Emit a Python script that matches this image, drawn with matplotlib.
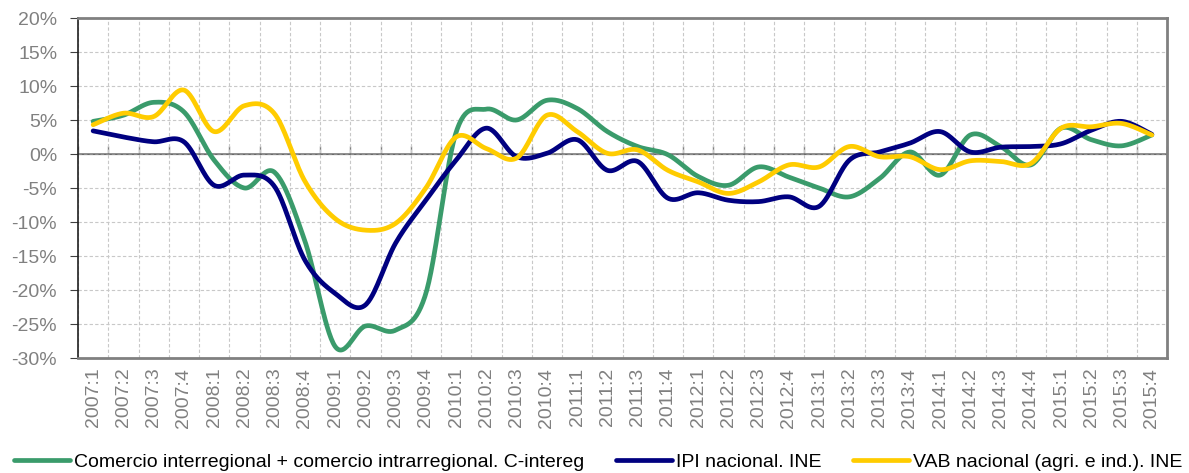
import numpy as np
import matplotlib
matplotlib.use("Agg")
import matplotlib.pyplot as plt
from matplotlib.ticker import FuncFormatter, MultipleLocator

plt.rcParams['font.family'] = ['Liberation Sans', 'DejaVu Sans']

categories = [f"{y}:{q}" for y in range(2007, 2016) for q in range(1, 5)]

comercio = [4.8, 5.7, 7.6, 6.2, -0.9, -5.0, -2.7, -12.8, -28.3, -25.3, -25.9, -20.5,
            3.2, 6.6, 5.0, 7.9, 6.7, 3.3, 1.1, -0.1, -3.3, -4.6, -1.9, -3.4,
            -5.0, -6.3, -3.6, 0.3, -3.1, 2.8, 1.1, -1.6, 3.8, 2.1, 1.2, 2.8]
ipi = [3.4, 2.5, 1.8, 1.8, -4.6, -3.1, -4.8, -15.6, -20.5, -22.2, -13.1, -6.8,
       -0.9, 3.8, -0.4, 0.1, 2.1, -2.4, -1.1, -6.5, -5.7, -6.8, -7.0, -6.3,
       -7.7, -0.9, 0.3, 1.6, 3.3, 0.3, 1.0, 1.1, 1.5, 3.5, 4.8, 2.9]
vab = [4.3, 6.0, 5.5, 9.4, 3.3, 7.1, 5.9, -4.0, -9.5, -11.2, -10.2, -5.0,
       2.5, 0.8, -0.6, 5.7, 3.3, 0.1, 0.6, -2.4, -4.1, -5.8, -4.1, -1.6,
       -1.9, 1.1, -0.4, -0.4, -2.3, -1.0, -1.1, -1.4, 3.8, 4.0, 4.5, 2.8]

labels = ["Comercio interregional + comercio intrarregional. C-intereg",
          "IPI nacional. INE",
          "VAB nacional (agri. e ind.). INE"]
colors = ["#3A9B6B", "#000080", "#FFCC00"]


def smooth(y, n=30):
    y = np.asarray(y, dtype=float)
    x = np.arange(len(y), dtype=float)
    px = np.concatenate([[x[0]], x, [x[-1]]])
    py = np.concatenate([[y[0]], y, [y[-1]]])
    xs, ys = [], []
    t = np.linspace(0, 1, n, endpoint=False)
    for i in range(len(y) - 1):
        p0x, p1x, p2x, p3x = px[i], px[i + 1], px[i + 2], px[i + 3]
        p0y, p1y, p2y, p3y = py[i], py[i + 1], py[i + 2], py[i + 3]
        c1x = p1x + (p2x - p0x) / 6
        c1y = p1y + (p2y - p0y) / 6
        c2x = p2x - (p3x - p1x) / 6
        c2y = p2y - (p3y - p1y) / 6
        b0 = (1 - t) ** 3
        b1 = 3 * (1 - t) ** 2 * t
        b2 = 3 * (1 - t) * t ** 2
        b3 = t ** 3
        xs.append(b0 * p1x + b1 * c1x + b2 * c2x + b3 * p2x)
        ys.append(b0 * p1y + b1 * c1y + b2 * c2y + b3 * p2y)
    xs.append([x[-1]])
    ys.append([y[-1]])
    return np.concatenate(xs), np.concatenate(ys)


fig = plt.figure(figsize=(11.89, 4.73), dpi=100)
ax = fig.add_axes([78 / 1189, 1 - 358 / 473, (1167 - 78) / 1189, 340 / 473])

gray = "#808080"
for series, col, lab in zip([comercio, ipi, vab], colors, labels):
    sx, sy = smooth(series)
    ax.plot(sx, sy, color=col, lw=3.4, label=lab, solid_capstyle='round', zorder=3)

n = len(categories)
ax.set_xlim(-0.5, n - 0.5)
ax.set_ylim(-30, 20)
ax.yaxis.set_major_locator(MultipleLocator(5))
ax.yaxis.set_major_formatter(FuncFormatter(lambda v, p: f"{v:.0f}%"))
ax.set_xticks(np.arange(n))
ax.set_xticklabels(categories, rotation=90, color=gray, fontsize=14)
ax.set_xticks(np.arange(n + 1) - 0.5, minor=True)
ax.tick_params(axis='x', which='major', length=0, pad=7)
ax.tick_params(axis='x', which='minor', length=0)
ax.tick_params(axis='y', labelsize=14, labelcolor=gray, length=6, color="#404040", pad=9)

ax.grid(True, which='major', axis='y', color="#C8C8C8", lw=0.8, ls=(0, (3, 2)))
ax.grid(True, which='minor', axis='x', color="#C8C8C8", lw=0.8, ls=(0, (3, 2)))
ax.set_axisbelow(True)

for side in ['top', 'right', 'bottom']:
    ax.spines[side].set_color(gray)
    ax.spines[side].set_linewidth(2)
ax.spines['left'].set_color("#202020")
ax.spines['left'].set_linewidth(1.2)

ax.axhline(0, color=gray, lw=1.2, zorder=2)
sec = ax.secondary_xaxis(30 / 50)
sec.spines['bottom'].set_visible(False)
sec.set_xticks(np.arange(n + 1) - 0.5)
sec.set_xticklabels([])
sec.tick_params(axis='x', direction='out', length=6, color=gray, width=1)

fig.legend(loc='center', bbox_to_anchor=(0.503, 1 - 462 / 473), ncol=3, frameon=False,
           fontsize=14, handlelength=2.9, handletextpad=0.2, columnspacing=1.6)

fig.savefig("out.png", dpi=100)
